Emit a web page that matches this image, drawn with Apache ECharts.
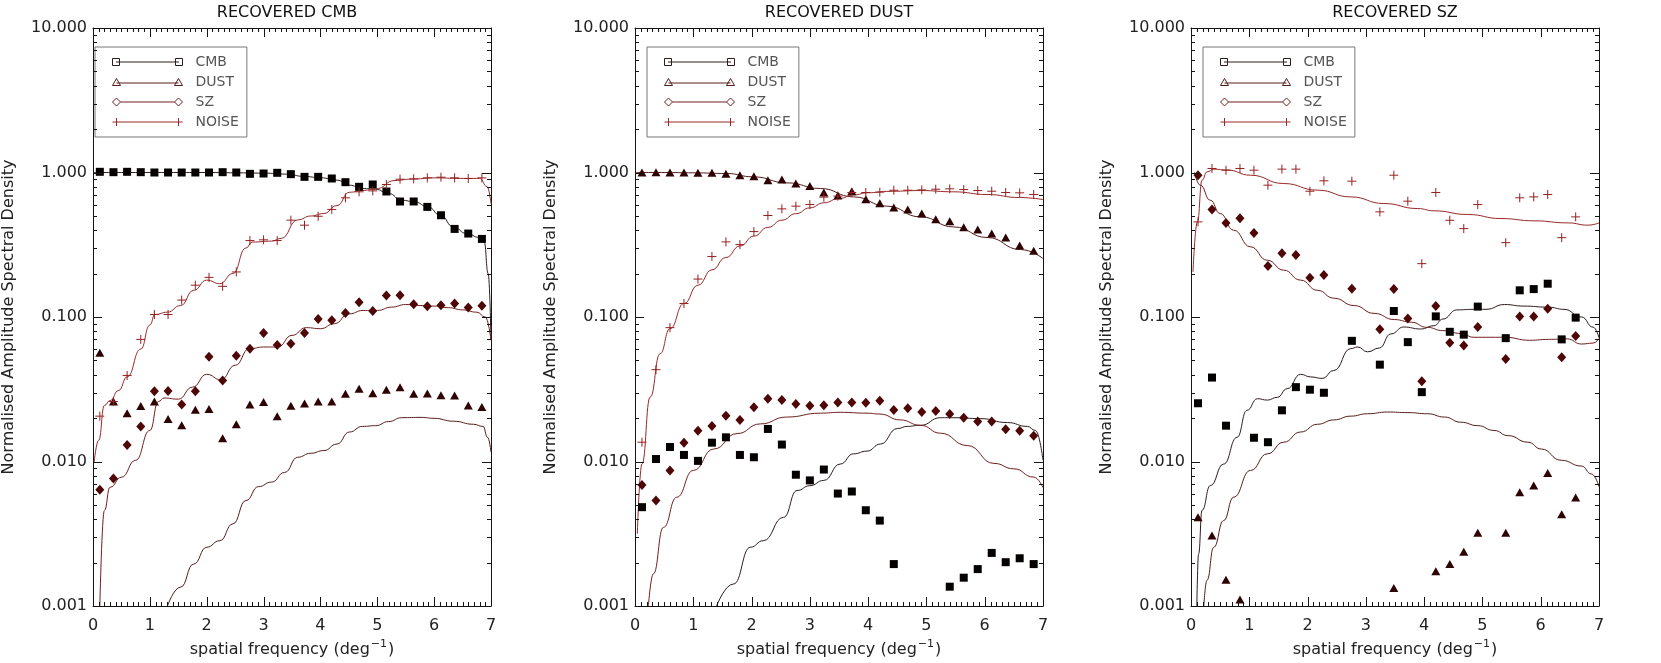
<!DOCTYPE html>
<html>
<head>
<meta charset="utf-8">
<title>Recovered spectra</title>
<script src="https://cdn.jsdelivr.net/npm/echarts@6/dist/echarts.min.js"></script>
<style>
  html, body { margin: 0; padding: 0; background: #fff; }
  #chart { width: 1661px; height: 663px; }
</style>
</head>
<body>
<div id="chart"></div>
<script>
// spatial frequency of the recovered points (deg^-1)
const FREQ = [0.12, 0.36, 0.60, 0.84, 1.08, 1.32, 1.56, 1.80, 2.04, 2.28, 2.52, 2.76, 3.00, 3.24, 3.48,
  3.72, 3.96, 4.20, 4.44, 4.68, 4.92, 5.16, 5.40, 5.64, 5.88, 6.12, 6.36, 6.60, 6.84];

// axis ticks
const X_MAJOR = [0, 1, 2, 3, 4, 5, 6, 7];
const Y_MAJOR = [0.001, 0.01, 0.1, 1, 10];
const MAJOR_Y_LABELS = ['0.001', '0.010', '0.100', '1.000', '10.000'];
const MINOR_Y = [0.002, 0.003, 0.004, 0.005, 0.006, 0.007, 0.008, 0.009,
  0.02, 0.03, 0.04, 0.05, 0.06, 0.07, 0.08, 0.09,
  0.2, 0.3, 0.4, 0.5, 0.6, 0.7, 0.8, 0.9,
  2, 3, 4, 5, 6, 7, 8, 9];

// ---- panel 1 : recovered CMB ----
const cmbRecCMB = [1.011, 1.005, 1.011, 1.005, 1.0, 1.0, 1.0, 1.0, 1.0, 1.005, 1.0, 0.979, 0.984, 0.995, 0.974,
  0.933, 0.933, 0.909, 0.857, 0.796, 0.826, 0.739, 0.630, 0.630, 0.578, 0.506, 0.407, 0.378, 0.347];
const cmbRecDUST = [0.0566, 0.0260, 0.0216, 0.0242, 0.0260, 0.0197, 0.0178, 0.0228, 0.0231, 0.0145, 0.0181, 0.0248,
  0.0258, 0.0206, 0.0243, 0.0252, 0.0260, 0.0260, 0.0294, 0.0319, 0.0297, 0.0314, 0.0327, 0.0294, 0.0296, 0.0287,
  0.0286, 0.0244, 0.0238];
const cmbRecSZ = [0.00637, 0.00762, 0.0130, 0.0175, 0.0306, 0.0307, 0.0248, 0.0306, 0.0531, 0.0364, 0.0540, 0.0603,
  0.0775, 0.0640, 0.0654, 0.0775, 0.0969, 0.0948, 0.1066, 0.1264, 0.110, 0.1406, 0.1413, 0.1224, 0.1185, 0.1204,
  0.1240, 0.1162, 0.1195];
const cmbRecNOISE = [0.0206, 0.026, 0.0394, 0.070, 0.104, 0.104, 0.131, 0.166, 0.188, 0.163, 0.205, 0.338, 0.342,
  0.338, 0.468, 0.432, 0.498, 0.555, 0.668, 0.735, 0.746, 0.826, 0.899, 0.904, 0.918, 0.928, 0.918, 0.909, 0.918];

const cmbLineCMB = [[0, 1.0], [0.5, 1.0], [1, 1.0], [1.5, 1.0], [2, 1.0], [2.5, 0.995], [3, 0.99], [3.4, 0.975],
  [3.71, 0.94], [4.0, 0.92], [4.29, 0.885], [4.51, 0.817], [4.74, 0.775], [4.97, 0.766], [5.2, 0.716], [5.43, 0.643],
  [5.66, 0.626], [5.89, 0.578], [6.11, 0.506], [6.34, 0.42], [6.57, 0.378], [6.8, 0.355], [6.88, 0.33],
  [6.95, 0.2], [7.0, 0.07]];
const cmbLineDUST = [[1.31, 0.001], [1.54, 0.00135], [1.77, 0.00195], [2.0, 0.00255], [2.23, 0.00283],
  [2.46, 0.0037], [2.69, 0.00537], [2.91, 0.0067], [3.14, 0.0072], [3.37, 0.0084], [3.6, 0.0107], [3.83, 0.0114],
  [4.06, 0.0119], [4.29, 0.0132], [4.51, 0.016], [4.74, 0.0175], [4.97, 0.0177], [5.2, 0.0189], [5.43, 0.0201],
  [5.77, 0.0202], [6.0, 0.0199], [6.34, 0.019], [6.69, 0.0181], [6.86, 0.0175], [6.94, 0.0147], [7.0, 0.0116]];
const cmbLineSZ = [[0.12, 0.001], [0.2, 0.00458], [0.3, 0.00664], [0.5, 0.00778], [0.75, 0.0102], [1.0, 0.0164],
  [1.15, 0.026], [1.25, 0.0275], [1.5, 0.027], [1.75, 0.0327], [2.0, 0.0401], [2.25, 0.0368], [2.5, 0.0463],
  [2.75, 0.0603], [3.0, 0.062], [3.25, 0.062], [3.5, 0.0746], [3.75, 0.0844], [4.0, 0.083], [4.25, 0.090],
  [4.5, 0.105], [4.75, 0.111], [5.0, 0.111], [5.25, 0.117], [5.5, 0.122], [5.75, 0.120], [6.0, 0.119],
  [6.25, 0.116], [6.5, 0.112], [6.75, 0.108], [6.9, 0.1], [7.0, 0.069]];
const cmbLineNOISE = [[0.02, 0.0099], [0.1, 0.014], [0.2, 0.0244], [0.3, 0.0264], [0.45, 0.031], [0.6, 0.0385],
  [0.84, 0.06], [1.0, 0.088], [1.09, 0.104], [1.31, 0.108], [1.54, 0.12], [1.77, 0.153], [2.0, 0.18], [2.23, 0.17],
  [2.46, 0.2], [2.69, 0.30], [2.8, 0.33], [3.14, 0.335], [3.31, 0.35], [3.6, 0.47], [3.83, 0.5], [4.06, 0.52],
  [4.29, 0.59], [4.51, 0.73], [4.74, 0.75], [4.97, 0.77], [5.31, 0.88], [5.6, 0.90], [6.0, 0.918], [6.46, 0.91],
  [6.8, 0.91], [6.93, 0.80], [7.0, 0.61]];

// ---- panel 2 : recovered DUST ----
const dustRecCMB = [0.00483, 0.0104, 0.0126, 0.0111, 0.0101, 0.0135, 0.0147, 0.0111, 0.0107, 0.0168, 0.0131, 0.0081,
  0.0074, 0.0088, 0.0060, 0.0062, 0.0046, 0.0039, 0.00195, null, null, null, 0.00136, 0.00157, 0.0018, 0.00233,
  0.00201, 0.00214, 0.00195];
const dustRecDUST = [1.0, 1.005, 1.0, 1.0, 0.995, 0.995, 0.979, 0.958, 0.943, 0.885, 0.894, 0.839, 0.808, 0.727,
  0.693, 0.742, 0.654, 0.613, 0.572, 0.555, 0.520, 0.475, 0.460, 0.418, 0.403, 0.378, 0.355, 0.312, 0.287];
const dustRecSZ = [0.00689, 0.00537, 0.00867, 0.0135, 0.0163, 0.0176, 0.0207, 0.0194, 0.0237, 0.0272, 0.0266,
  0.0250, 0.0243, 0.0245, 0.0256, 0.0256, 0.0255, 0.0263, 0.0227, 0.0234, 0.0220, 0.0224, 0.0213, 0.0201, 0.0189,
  0.0189, 0.0167, 0.0163, 0.0151];
const dustRecNOISE = [0.0136, 0.0432, 0.0844, 0.124, 0.183, 0.262, 0.331, 0.317, 0.390, 0.504, 0.560, 0.585, 0.600,
  0.675, 0.686, 0.727, 0.727, 0.731, 0.754, 0.754, 0.758, 0.766, 0.771, 0.762, 0.750, 0.742, 0.727, 0.723, 0.704];

const dustLineCMB = [[1.4, 0.001], [1.69, 0.00142], [1.98, 0.00255], [2.2, 0.00283], [2.55, 0.00411], [2.78, 0.0063],
  [3.0, 0.0068], [3.24, 0.0074], [3.52, 0.0096], [3.75, 0.0113], [3.98, 0.0118], [4.21, 0.0132], [4.5, 0.0169],
  [4.67, 0.0175], [4.9, 0.0178], [5.24, 0.0201], [5.47, 0.0201], [5.93, 0.0198], [6.39, 0.0186], [6.73, 0.0175],
  [6.87, 0.0164], [7.0, 0.0102]];
const dustLineDUST = [[0, 1.0], [0.5, 1.0], [1.0, 0.995], [1.575, 0.984], [2.03, 0.933], [2.606, 0.848],
  [3.18, 0.775], [3.75, 0.678], [4.32, 0.585], [4.9, 0.493], [5.47, 0.42], [6.04, 0.355], [6.615, 0.293],
  [7.0, 0.254]];
const dustLineSZ = [[0.23, 0.001], [0.315, 0.00167], [0.487, 0.0035], [0.716, 0.00566], [1.0, 0.00867],
  [1.35, 0.0122], [1.75, 0.0156], [2.15, 0.0182], [2.6, 0.0203], [3.18, 0.0216], [3.52, 0.0219], [3.98, 0.0216],
  [4.2, 0.0213], [4.55, 0.0194], [4.9, 0.0178], [5.24, 0.0157], [5.7, 0.0129], [6.16, 0.0097], [6.5, 0.0089],
  [6.84, 0.0078], [7.0, 0.0066]];
const dustLineNOISE = [[0.04, 0.00316], [0.12, 0.0096], [0.26, 0.0279], [0.43, 0.0557], [0.6, 0.083], [0.84, 0.124],
  [1.08, 0.166], [1.32, 0.212], [1.56, 0.258], [1.8, 0.31], [2.04, 0.363], [2.28, 0.417], [2.52, 0.468],
  [2.76, 0.519], [3.0, 0.569], [3.24, 0.617], [3.5, 0.66], [3.75, 0.70], [4.0, 0.724], [4.32, 0.74], [4.9, 0.75],
  [5.47, 0.735], [6.04, 0.704], [6.6, 0.671], [7.0, 0.65]];

// ---- panel 3 : recovered SZ ----
const szRecCMB = [0.0253, 0.0381, 0.0177, null, 0.0146, 0.0136, 0.0226, 0.0327, 0.0314, 0.0299, null, 0.0684, null,
  0.0468, 0.110, 0.067, 0.0302, 0.101, 0.079, 0.0755, 0.118, null, 0.0714, 0.153, 0.156, 0.170, 0.070, 0.099, null];
const szRecDUST = [0.00411, 0.00307, 0.00152, 0.00111, null, null, null, null, null, null, null, null, null, null,
  0.00133, null, null, 0.00174, 0.00195, 0.00237, 0.00321, null, 0.00321, 0.00613, 0.00682, 0.00834, 0.00432,
  0.00563, null];
const szRecSZ = [0.958, 0.554, 0.448, 0.483, 0.382, 0.225, 0.276, 0.269, 0.187, 0.195, null, 0.157, null, 0.0822,
  0.156, 0.0975, 0.0359, 0.119, 0.0664, 0.0636, 0.0853, null, 0.0513, 0.101, 0.101, 0.114, 0.0527, 0.0739, null];
const szRecNOISE = [0.455, 1.066, 1.038, 1.066, 1.038, 0.817, 1.055, 1.055, 0.742, 0.876, null, 0.871, null, 0.534,
  0.958, 0.633, 0.234, 0.727, 0.467, 0.409, 0.600, null, 0.327, 0.668, 0.678, 0.704, 0.354, 0.493, null];

const szLineCMB = [[0.1, 0.001], [0.13, 0.00229], [0.19, 0.0046], [0.33, 0.0068], [0.56, 0.0096], [0.79, 0.0147],
  [0.96, 0.0226], [1.14, 0.0272], [1.31, 0.0266], [1.48, 0.0278], [1.65, 0.0319], [1.88, 0.0401], [2.05, 0.0385],
  [2.25, 0.0376], [2.45, 0.0426], [2.74, 0.0604], [2.86, 0.062], [3.03, 0.0574], [3.23, 0.061], [3.43, 0.0764],
  [3.65, 0.0853], [3.94, 0.0826], [4.17, 0.087], [4.32, 0.0967], [4.56, 0.112], [4.85, 0.113], [5.06, 0.113],
  [5.38, 0.122], [5.7, 0.119], [6.13, 0.117], [6.4, 0.113], [6.7, 0.1], [6.9, 0.085], [7.0, 0.072]];
const szLineDUST = [[0.22, 0.001], [0.275, 0.00151], [0.39, 0.00255], [0.56, 0.0039], [0.73, 0.00566],
  [1.02, 0.00867], [1.31, 0.0113], [1.59, 0.0136], [1.88, 0.016], [2.17, 0.0181], [2.45, 0.0194], [2.74, 0.0206],
  [3.03, 0.0214], [3.37, 0.022], [3.72, 0.0218], [4.06, 0.0214], [4.35, 0.0203], [4.63, 0.0187], [4.92, 0.0177],
  [5.2, 0.0164], [5.44, 0.0151], [5.78, 0.0136], [6.01, 0.0122], [6.35, 0.0102], [6.7, 0.0093], [6.87, 0.0082],
  [7.0, 0.0067]];
const szLineSZ = [[0.06, 1.0], [0.16, 0.817], [0.33, 0.643], [0.5, 0.52], [0.73, 0.399], [1.02, 0.306],
  [1.31, 0.247], [1.59, 0.211], [1.88, 0.18], [2.17, 0.153], [2.45, 0.135], [2.8, 0.12], [3.14, 0.106],
  [3.49, 0.096], [3.78, 0.092], [4.05, 0.0848], [4.32, 0.0805], [4.64, 0.0769], [4.85, 0.0724], [5.38, 0.0724],
  [5.81, 0.069], [6.13, 0.070], [6.45, 0.0706], [6.7, 0.065], [6.9, 0.066], [7.0, 0.071]];
const szLineNOISE = [[0.034, 0.205], [0.11, 0.455], [0.19, 0.885], [0.275, 1.01], [0.39, 1.055], [0.62, 1.04],
  [1.02, 0.958], [1.59, 0.839], [2.17, 0.755], [2.74, 0.678], [3.31, 0.61], [3.89, 0.563], [4.17, 0.543],
  [4.75, 0.512], [5.32, 0.48], [5.89, 0.463], [6.47, 0.448], [6.81, 0.432], [7.0, 0.448]];

const TITLES = ['RECOVERED CMB', 'RECOVERED DUST', 'RECOVERED SZ'];
const NAMES = ['CMB', 'DUST', 'SZ', 'NOISE'];

const recovered = [
  [cmbRecCMB, cmbRecDUST, cmbRecSZ, cmbRecNOISE],
  [dustRecCMB, dustRecDUST, dustRecSZ, dustRecNOISE],
  [szRecCMB, szRecDUST, szRecSZ, szRecNOISE]
];
const inputLines = [
  [cmbLineCMB, cmbLineDUST, cmbLineSZ, cmbLineNOISE],
  [dustLineCMB, dustLineDUST, dustLineSZ, dustLineNOISE],
  [szLineCMB, szLineDUST, szLineSZ, szLineNOISE]
];

// look
const FONT = 'DejaVu Sans';
const GRID_LEFT = [83, 635, 1191];
const GRID_W = 408, GRID_TOP = 28, GRID_H = 578;
const AXIS_C = '#151515';
const POINT_C = { CMB: '#050000', DUST: '#2e0202', SZ: '#4e0606', NOISE: '#962020' };
const LINE_C = { CMB: '#2e1c1c', DUST: '#561c1c', SZ: '#701e1e', NOISE: '#982828' };
const SYMBOL = { CMB: 'rect', DUST: 'triangle', SZ: 'diamond', NOISE: 'path://M0,5H10M5,0V10' };
const SYMBOL_SIZE = { CMB: 8, DUST: [9, 8], SZ: [9, 10], NOISE: 9 };
const LEGEND_ICON = {
  CMB: 'path://M0,0L0,0M0,1.5h7v7h-7zM3.5,5H66.5M63,1.5h7v7h-7zM70,10L70,10',
  DUST: 'path://M0,0L0,0M0,8.5L4,1.5L8,8.5ZM4,6H66M62,8.5L66,1.5L70,8.5ZM70,10L70,10',
  SZ: 'path://M0,0L0,0M0,5L4,1L8,5L4,9ZM8,5H62M62,5L66,1L70,5L66,9ZM70,10L70,10',
  NOISE: 'path://M0,0L0,0M0,5H70M4,1V9M66,1V9M70,10L70,10'
};

const grids = [], xAxes = [], yAxes = [], titles = [], legends = [], series = [];

GRID_LEFT.forEach((left, g) => {
  grids.push({ left: left, top: GRID_TOP, width: GRID_W, height: GRID_H });

  titles.push({
    text: TITLES[g], left: left + GRID_W / 2, top: 5, textAlign: 'center', padding: 0,
    textStyle: { fontFamily: FONT, fontSize: 16, fontWeight: 'normal', color: '#111' }
  });

  const xBase = {
    gridIndex: g, type: 'value', min: 0, max: 7, interval: 1,
    axisLine: { show: true, onZero: false, lineStyle: { color: AXIS_C, width: 1 } },
    axisTick: { show: false }, minorTick: { show: false },
    splitLine: { show: false }, minorSplitLine: { show: false }
  };
  xAxes.push(Object.assign({}, xBase, {
    position: 'bottom',
    axisLabel: { margin: 12, fontFamily: FONT, fontSize: 16, color: '#222' },
    name: '{t|spatial frequency (deg}{s|−1}{t|)}',
    nameLocation: 'middle', nameGap: 32,
    nameTextStyle: {
      rich: {
        t: { fontFamily: FONT, fontSize: 16, color: '#222', verticalAlign: 'bottom' },
        s: { fontFamily: FONT, fontSize: 11, color: '#222', verticalAlign: 'top', padding: [0, 1, 8, 1] }
      }
    }
  }));
  xAxes.push(Object.assign({}, xBase, { position: 'top', axisLabel: { show: false } }));

  const yBase = {
    gridIndex: g, type: 'log', logBase: 10, min: 0.001, max: 10,
    axisLine: { show: true, onZero: false, lineStyle: { color: AXIS_C, width: 1 } },
    axisTick: { show: false },
    splitLine: { show: false }
  };
  yAxes.push(Object.assign({}, yBase, {
    position: 'left',
    axisLabel: {
      margin: 6, fontFamily: FONT, fontSize: 16, color: '#222',
      formatter: v => MAJOR_Y_LABELS[Math.round(Math.log10(v)) + 3]
    },
    name: 'Normalised Amplitude Spectral Density',
    nameLocation: 'middle', nameGap: 76,
    nameTextStyle: { fontFamily: FONT, fontSize: 16, color: '#222' }
  }));
  yAxes.push(Object.assign({}, yBase, { position: 'right', axisLabel: { show: false } }));

  legends.push({
    left: left + 12, top: 47, orient: 'vertical',
    itemWidth: 70, itemHeight: 10, itemGap: 6,
    padding: [8, 8, 8, 17],
    borderColor: '#777', borderWidth: 1, borderRadius: 0,
    selectedMode: false,
    textStyle: { fontFamily: FONT, fontSize: 14, color: '#555', lineHeight: 14, padding: [0, 0, 0, 8] },
    data: NAMES.map(n => ({
      name: n, icon: LEGEND_ICON[n],
      itemStyle: { color: 'rgba(0,0,0,0)', borderColor: LINE_C[n], borderWidth: 1 }
    }))
  });

  NAMES.forEach((n, k) => {
    series.push({
      type: 'line', name: n, xAxisIndex: 2 * g, yAxisIndex: 2 * g,
      data: inputLines[g][k], showSymbol: false, smooth: 0.5, smoothMonotone: 'x',
      lineStyle: { color: LINE_C[n], width: 1 }, itemStyle: { color: LINE_C[n] },
      clip: true, silent: true, z: 2
    });
    const isPlus = n === 'NOISE';
    series.push({
      type: 'scatter', name: n, xAxisIndex: 2 * g, yAxisIndex: 2 * g,
      data: FREQ.map((f, i) => [f, recovered[g][k][i]]).filter(p => p[1] != null),
      symbol: SYMBOL[n], symbolSize: SYMBOL_SIZE[n],
      itemStyle: isPlus
        ? { color: 'rgba(0,0,0,0)', borderColor: POINT_C[n], borderWidth: 1, opacity: 1 }
        : { color: POINT_C[n], opacity: 1 },
      clip: true, silent: true, z: 3
    });
  });
});

const chart = echarts.init(document.getElementById('chart'));
chart.setOption({
  backgroundColor: '#ffffff',
  animation: false,
  title: titles,
  legend: legends,
  grid: grids,
  xAxis: xAxes,
  yAxis: yAxes,
  series: series
});

// IDL-style inward ticks on all four sides, placed through the axes' own scales
const X_MINOR = [];
for (let k = 1; k < 70; k++) if (k % 10) X_MINOR.push(k / 10);

function tickLine(x1, y1, x2, y2) {
  return {
    type: 'line', silent: true, z: 50,
    shape: { x1: x1, y1: y1, x2: x2, y2: y2 },
    style: { stroke: AXIS_C, lineWidth: 1 }
  };
}

const ticks = [];
GRID_LEFT.forEach((left, g) => {
  const finder = { xAxisIndex: 2 * g, yAxisIndex: 2 * g };
  const toPx = p => chart.convertToPixel(finder, p);
  const vTick = (xv, len) => {
    const b = toPx([xv, 0.001]), t = toPx([xv, 10]);
    const x = Math.round(b[0]) + 0.5;
    ticks.push(tickLine(x, b[1], x, b[1] - len), tickLine(x, t[1], x, t[1] + len));
  };
  const hTick = (yv, len) => {
    const l = toPx([0, yv]), r = toPx([7, yv]);
    const y = Math.round(l[1]) + 0.5;
    ticks.push(tickLine(l[0], y, l[0] + len, y), tickLine(r[0], y, r[0] - len, y));
  };
  X_MAJOR.forEach(v => vTick(v, 9));
  X_MINOR.forEach(v => vTick(v, 4));
  Y_MAJOR.forEach(v => hTick(v, 9));
  MINOR_Y.forEach(v => hTick(v, 4));
});
chart.setOption({ graphic: { elements: ticks } });
</script>
</body>
</html>
